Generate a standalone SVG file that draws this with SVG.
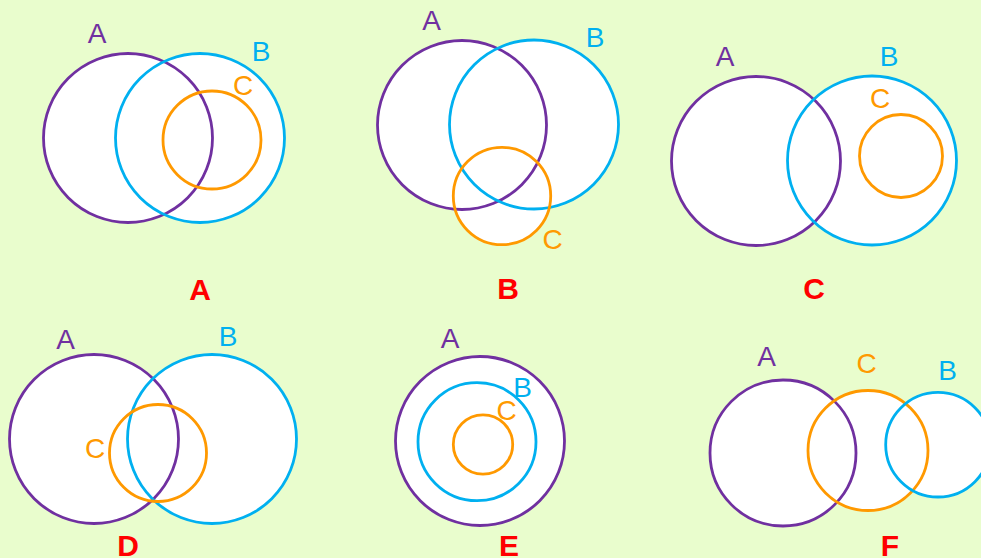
<svg xmlns="http://www.w3.org/2000/svg" width="981" height="558" viewBox="0 0 981 558">
<style>
.f{fill:#ffffff;stroke:none}
.s{fill:none;stroke-width:2.8}
.pa{stroke:#7030A0}.pb{stroke:#00B0F0}.pc{stroke:#FF9900}
.t{font-family:"Liberation Sans",Arial,sans-serif;font-size:28px;text-anchor:middle}
.ta{fill:#7030A0}.tb{fill:#00B0F0}.tc{fill:#FF9900}
.r{font-family:"Liberation Sans",Arial,sans-serif;font-size:30px;font-weight:bold;fill:#FF0000;text-anchor:middle}
</style>
<rect width="981" height="558" fill="#E9FDCD"/>
<g id="fills">
<circle class="f" cx="128" cy="138" r="84.5"/><circle class="f" cx="200" cy="138" r="84.5"/>
<circle class="f" cx="462" cy="125" r="84.5"/><circle class="f" cx="534" cy="124.5" r="84.5"/><circle class="f" cx="502" cy="196" r="48.7"/>
<circle class="f" cx="756" cy="161" r="84.5"/><circle class="f" cx="872" cy="160.5" r="84.5"/>
<circle class="f" cx="94" cy="439" r="84.5"/><circle class="f" cx="212" cy="439" r="84.5"/>
<circle class="f" cx="480" cy="441" r="84.5"/>
<circle class="f" cx="783" cy="453" r="73"/><circle class="f" cx="868" cy="450.5" r="60"/><circle class="f" cx="938" cy="444.7" r="52.3"/>
</g>
<g id="panelA">
<circle class="s pa" cx="128" cy="138" r="84.5"/><circle class="s pb" cx="200" cy="138" r="84.5"/><circle class="s pc" cx="212" cy="140" r="49"/>
<text class="t ta" x="97" y="43">A</text><text class="t tb" x="261" y="61">B</text><text class="t tc" x="243" y="95">C</text>
<text class="r" x="200" y="300">A</text>
</g>
<g id="panelB">
<circle class="s pa" cx="462" cy="125" r="84.5"/><circle class="s pb" cx="534" cy="124.5" r="84.5"/><circle class="s pc" cx="502" cy="196" r="48.7"/>
<text class="t ta" x="431.5" y="30">A</text><text class="t tb" x="595" y="46.5">B</text><text class="t tc" x="552.5" y="248.5">C</text>
<text class="r" x="508" y="299">B</text>
</g>
<g id="panelC">
<circle class="s pa" cx="756" cy="161" r="84.5"/><circle class="s pb" cx="872" cy="160.5" r="84.5"/><circle class="s pc" cx="901" cy="156" r="41.5"/>
<text class="t ta" x="725" y="65.5">A</text><text class="t tb" x="889" y="65.5">B</text><text class="t tc" x="880" y="108">C</text>
<text class="r" x="814" y="299">C</text>
</g>
<g id="panelD">
<circle class="s pa" cx="94" cy="439" r="84.5"/><circle class="s pb" cx="212" cy="439" r="84.5"/><circle class="s pc" cx="158" cy="453" r="48.5"/>
<text class="t ta" x="65.5" y="349">A</text><text class="t tb" x="228" y="346">B</text><text class="t tc" x="95" y="458">C</text>
<text class="r" x="128" y="556">D</text>
</g>
<g id="panelE">
<circle class="s pa" cx="480" cy="441" r="84.5"/><circle class="s pb" cx="477" cy="441.7" r="59"/><circle class="s pc" cx="483" cy="444.5" r="29.7"/>
<text class="t ta" x="450" y="348">A</text><text class="t tb" x="522.5" y="396.5">B</text><text class="t tc" x="506.5" y="420">C</text>
<text class="r" x="509" y="556">E</text>
</g>
<g id="panelF">
<circle class="s pa" cx="783" cy="453" r="73"/><circle class="s pc" cx="868" cy="450.5" r="60"/><circle class="s pb" cx="938" cy="444.7" r="52.3"/>
<text class="t ta" x="766.5" y="366">A</text><text class="t tc" x="866.5" y="372.5">C</text><text class="t tb" x="947.5" y="380">B</text>
<text class="r" x="890" y="556">F</text>
</g>
<g id="connectors"/>
</svg>
